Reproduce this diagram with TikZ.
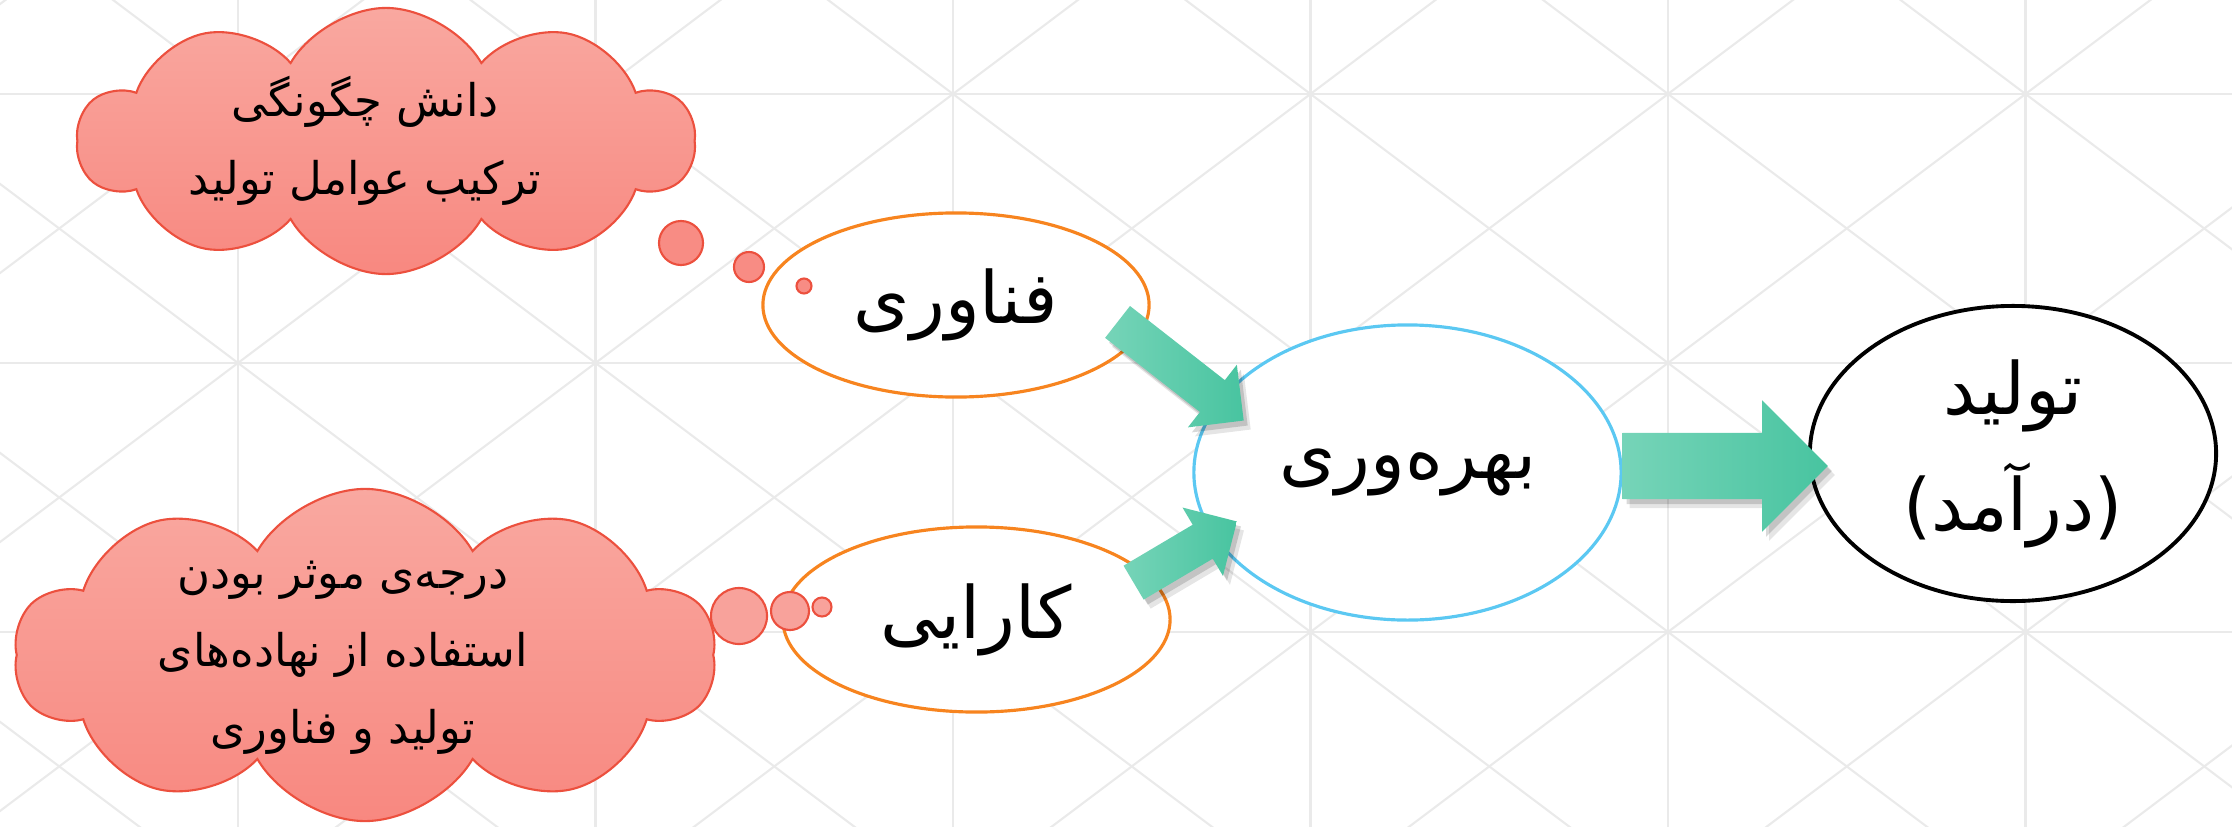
\documentclass[tikz,border=0pt]{standalone}
\usepackage{fontspec}
\newfontfamily\fa[Script=Arabic]{DejaVu Sans}
\newfontfamily\faplain{DejaVu Sans}
\TeXXeTstate=1
\usetikzlibrary{shapes.geometric,shapes.symbols,shapes.arrows,shadows}
\definecolor{gridgray}{RGB}{234,234,234}
\definecolor{cloudtop}{RGB}{249,168,160}
\definecolor{cloudbot}{RGB}{248,136,128}
\definecolor{cloudline}{RGB}{236,80,62}
\definecolor{bubup}{RGB}{248,140,132}
\definecolor{bubdown}{RGB}{248,162,155}
\definecolor{orangec}{RGB}{247,132,31}
\definecolor{bluec}{RGB}{91,200,242}
\definecolor{arrleft}{RGB}{118,212,184}
\definecolor{arrright}{RGB}{72,196,160}
\newcommand{\rtl}[1]{\beginR #1\endR}

\begin{document}
\begin{tikzpicture}[x=0.01cm, y=-0.01cm,
  gridline/.style={draw=gridgray, line width=0.6pt},
  thought/.style={cloud, cloud puffs=10, cloud puff arc=120, aspect=2.3, draw=cloudline, line width=0.6pt, top color=cloudtop, bottom color=cloudbot, inner sep=0pt},
  bubble/.style={circle, draw=cloudline, line width=0.6pt, inner sep=0pt},
  oval/.style={ellipse, fill=white, line width=0.9pt, inner sep=0pt, align=center, font=\fa\fontsize{20.5}{33}\selectfont},
  ctext/.style={align=center, font=\fa\fontsize{12.8}{22}\selectfont},
  blockarr/.style={single arrow, inner xsep=0pt, pos=0, anchor=tail, sloped, left color=arrleft, right color=arrright,
    drop shadow={shadow xshift=0.7mm, shadow yshift=-0.9mm, opacity=0.10, fill=black},
    drop shadow={shadow xshift=0.4mm, shadow yshift=-0.5mm, opacity=0.15, fill=black}}]
\useasboundingbox (0,0) rectangle (2232,827);
\begin{scope}
\clip (0,0) rectangle (2232,827);
\foreach \k in {-1,...,6} \draw[gridline] (238+357.5*\k,0) -- (238+357.5*\k,827);
\foreach \k in {0,1,2} \draw[gridline] (0,94+269*\k) -- (2232,94+269*\k);
\foreach \k in {-4,...,9} {
  \draw[gridline] (238+357.5*\k-200,-56.5) -- (238+357.5*\k+1100,921.6);
  \draw[gridline] (238+357.5*\k+200,-56.5) -- (238+357.5*\k-1100,921.6);
}
\end{scope}

\node[thought, minimum width=6.16cm, minimum height=2.66cm] (c1) at (386,141) {};
\node[ctext] (c1t) at (365,141) {\rtl{دانش چگونگی}\\\rtl{ترکیب عوامل تولید}};
\node[thought, minimum width=7.01cm, minimum height=3.32cm] (c2) at (365,655) {};
\node[ctext] (c2t) at (343,658) {\rtl{درجه^^^^200cی موثر بودن}\\\rtl{استفاده از نهاده^^^^200cهای}\\\rtl{تولید و فناوری}};

\node[oval, draw=orangec, minimum width=3.86cm, minimum height=1.84cm] (fan) at (956,305) {فناوری};
\node[oval, draw=orangec, minimum width=3.87cm, minimum height=1.85cm] (kar) at (976.5,619.5) {کارایی};
\node[oval, draw=bluec, minimum width=4.27cm, minimum height=2.95cm] (bah) at (1407.5,472.5) {\rtl{بهره^^^^200cوری}};
\node[oval, draw=black, line width=1.1pt, minimum width=4.06cm, minimum height=2.95cm] (tol) at (2013,453.5) {تولید\\{\faplain(}\rtl{درآمد}{\faplain)}};

\node[bubble, fill=bubup, minimum size=0.44cm] (b1a) at (681,243) {};
\node[bubble, fill=bubup, minimum size=0.30cm] (b1b) at (749,267) {};
\node[bubble, fill=bubup, minimum size=0.15cm] (b1c) at (804,286) {};
\node[bubble, fill=bubdown, minimum size=0.56cm] (b2a) at (739,616) {};
\node[bubble, fill=bubdown, minimum size=0.38cm] (b2b) at (790,611) {};
\node[bubble, fill=bubdown, minimum size=0.19cm] (b2c) at (822,607) {};

\coordinate (a1s) at (1117,321.5); \coordinate (a1e) at (1243,420);
\coordinate (a2s) at (1133,583); \coordinate (a2e) at (1236,522);
\coordinate (a3s) at (1622,466); \coordinate (a3e) at (1827,466);
\path (a1s) -- node[blockarr, minimum height=1.6cm, inner ysep=0.195cm, single arrow head extend=0.195cm] (ar1) {} (a1e);
\path (a2s) -- node[blockarr, minimum height=1.2cm, inner ysep=0.19cm, single arrow head extend=0.2cm] (ar2) {} (a2e);
\path (a3s) -- node[blockarr, minimum height=2.05cm, inner ysep=0.325cm, single arrow head extend=0.325cm] (ar3) {} (a3e);
\end{tikzpicture}
\end{document}
